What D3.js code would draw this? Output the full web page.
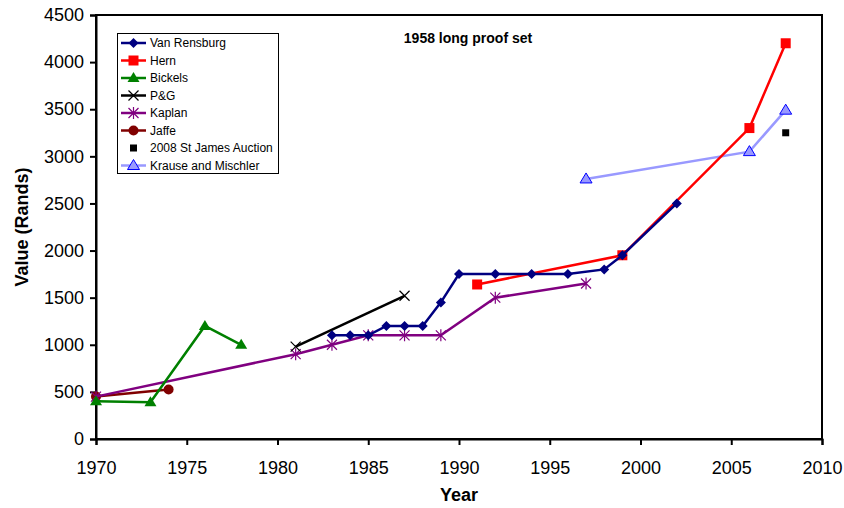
<!DOCTYPE html>
<html>
<head>
<meta charset="utf-8">
<script src="https://cdn.jsdelivr.net/npm/d3@7"></script>
<style>
  body { margin: 0; background: #fff; }
  svg { display: block; font-family: Arial, "Liberation Sans", sans-serif; }
</style>
</head>
<body>
<svg id="chart" width="844" height="508"></svg>
<script>
// Published values of the 1958 long proof set, by year (Rands)
const vanRensburgYears  = [1983, 1984, 1985, 1986, 1987, 1988, 1989, 1990, 1992, 1994, 1996, 1998, 1999, 2002];
const vanRensburgValues = [1100, 1100, 1100, 1200, 1200, 1200, 1450, 1750, 1750, 1750, 1750, 1800, 1950, 2500];
const hernYears  = [1991, 1999, 2006, 2008];
const hernValues = [1640, 1950, 3300, 4200];
const bickelsYears  = [1970, 1973, 1976, 1978];
const bickelsValues = [400, 390, 1200, 1000];
const pgYears  = [1981, 1987];
const pgValues = [980, 1520];
const kaplanYears  = [1970, 1981, 1983, 1985, 1987, 1989, 1992, 1997];
const kaplanValues = [450, 900, 1000, 1100, 1100, 1100, 1500, 1650];
const jaffeYears  = [1970, 1974];
const jaffeValues = [450, 525];
const stJamesYears  = [2008];
const stJamesValues = [3250];
const krauseYears  = [1997, 2006, 2008];
const krauseValues = [2760, 3050, 3490];

const xTicks = [1970, 1975, 1980, 1985, 1990, 1995, 2000, 2005, 2010];
const yTicks = [0, 500, 1000, 1500, 2000, 2500, 3000, 3500, 4000, 4500];

const series = [
  { name: "Van Rensburg", years: vanRensburgYears, values: vanRensburgValues, color: "#000080", marker: "diamond", line: true },
  { name: "Hern", years: hernYears, values: hernValues, color: "#FF0000", marker: "square", line: true },
  { name: "Bickels", years: bickelsYears, values: bickelsValues, color: "#008000", marker: "triangle", line: true },
  { name: "P&G", years: pgYears, values: pgValues, color: "#000000", marker: "x", line: true },
  { name: "Kaplan", years: kaplanYears, values: kaplanValues, color: "#800080", marker: "star", line: true },
  { name: "Jaffe", years: jaffeYears, values: jaffeValues, color: "#800000", marker: "circle", line: true },
  { name: "2008 St James Auction", years: stJamesYears, values: stJamesValues, color: "#000000", marker: "smallsquare", line: false },
  { name: "Krause and Mischler", years: krauseYears, values: krauseValues, color: "#9999FF", marker: "opentriangle", line: true }
];

const svg = d3.select("#chart");
const plotLeft = 96, plotRight = 822, plotTop = 15, plotBottom = 439;

const x = d3.scaleLinear().domain([1970, 2010]).range([plotLeft, plotRight]);
const y = d3.scaleLinear().domain([0, 4500]).range([plotBottom, plotTop]);

// plot frame
svg.append("rect")
  .attr("x", plotLeft).attr("y", plotTop)
  .attr("width", plotRight - plotLeft).attr("height", plotBottom - plotTop)
  .attr("fill", "none").attr("stroke", "#000").attr("stroke-width", 2);

// axes
const xAxis = svg.append("g")
  .attr("transform", `translate(0,${plotBottom})`)
  .call(d3.axisBottom(x).tickValues(xTicks).tickFormat(d3.format("d")).tickSize(6).tickPadding(16));
const yAxis = svg.append("g")
  .attr("transform", `translate(${plotLeft},0)`)
  .call(d3.axisLeft(y).tickValues(yTicks).tickFormat(d3.format("d")).tickSize(6).tickPadding(6));
[xAxis, yAxis].forEach(a => {
  a.select(".domain").attr("stroke", "#000").attr("stroke-width", 2);
  a.selectAll(".tick line").attr("stroke", "#000").attr("stroke-width", 2);
  a.selectAll(".tick text")
    .attr("fill", "#000")
    .style("font-family", "Arial, 'Liberation Sans', sans-serif")
    .style("font-size", "18px");
});

// axis titles
svg.append("text")
  .attr("x", 459).attr("y", 501)
  .attr("text-anchor", "middle")
  .style("font-size", "18px").style("font-weight", "bold")
  .text("Year");
svg.append("text")
  .attr("transform", `translate(28,${(plotTop + plotBottom) / 2}) rotate(-90)`)
  .attr("text-anchor", "middle")
  .style("font-size", "18px").style("font-weight", "bold")
  .text("Value (Rands)");

// chart title
svg.append("text")
  .attr("x", 468).attr("y", 43)
  .attr("text-anchor", "middle")
  .style("font-size", "14px").style("font-weight", "bold")
  .text("1958 long proof set");

// marker drawing
function drawMarker(g, type, color, cx, cy) {
  switch (type) {
    case "diamond":
      g.append("path").attr("d", `M${cx},${cy-5}L${cx+5},${cy}L${cx},${cy+5}L${cx-5},${cy}Z`).attr("fill", color);
      break;
    case "square":
      g.append("rect").attr("x", cx - 5).attr("y", cy - 5).attr("width", 10).attr("height", 10).attr("fill", color);
      break;
    case "smallsquare":
      g.append("rect").attr("x", cx - 3.5).attr("y", cy - 3.5).attr("width", 7).attr("height", 7).attr("fill", color);
      break;
    case "triangle":
      g.append("path").attr("d", `M${cx},${cy-6}L${cx+6},${cy+4}L${cx-6},${cy+4}Z`).attr("fill", color);
      break;
    case "opentriangle":
      g.append("path").attr("d", `M${cx},${cy-6}L${cx+6},${cy+4}L${cx-6},${cy+4}Z`)
        .attr("fill", "#9999FF").attr("stroke", "#0000FF").attr("stroke-width", 1);
      break;
    case "circle":
      g.append("circle").attr("cx", cx).attr("cy", cy).attr("r", 5).attr("fill", color);
      break;
    case "x":
      g.append("path").attr("d", `M${cx-5},${cy-5}L${cx+5},${cy+5}M${cx-5},${cy+5}L${cx+5},${cy-5}`)
        .attr("stroke", color).attr("stroke-width", 1.2).attr("fill", "none");
      break;
    case "star":
      g.append("path").attr("d", `M${cx-5},${cy-5}L${cx+5},${cy+5}M${cx-5},${cy+5}L${cx+5},${cy-5}M${cx},${cy-6}L${cx},${cy+6}`)
        .attr("stroke", color).attr("stroke-width", 1.2).attr("fill", "none");
      break;
  }
}

const line = d3.line().x(d => x(d[0])).y(d => y(d[1]));
const plot = svg.append("g");

// draw in reverse order so the first series sits on top
series.slice().reverse().forEach(s => {
  const pts = s.years.map((yr, i) => [yr, s.values[i]]);
  const g = plot.append("g");
  if (s.line) {
    g.append("path").datum(pts).attr("d", line)
      .attr("fill", "none").attr("stroke", s.color).attr("stroke-width", 2.5);
  }
  pts.forEach(p => drawMarker(g, s.marker, s.color, x(p[0]), y(p[1])));
});

// legend
const lg = svg.append("g");
lg.append("rect").attr("x", 117.5).attr("y", 33.5).attr("width", 161).attr("height", 140)
  .attr("fill", "#fff").attr("stroke", "#000").attr("stroke-width", 1);
series.forEach((s, i) => {
  const cy = 43 + i * 17.5;
  const g = lg.append("g");
  if (s.line) {
    g.append("line").attr("x1", 121).attr("x2", 146).attr("y1", cy).attr("y2", cy)
      .attr("stroke", s.color).attr("stroke-width", 2.5);
  }
  drawMarker(g, s.marker, s.color, 133.5, cy);
  g.append("text").attr("x", 150).attr("y", cy + 4)
    .style("font-size", "12px").attr("fill", "#000").text(s.name);
});
</script>
</body>
</html>
